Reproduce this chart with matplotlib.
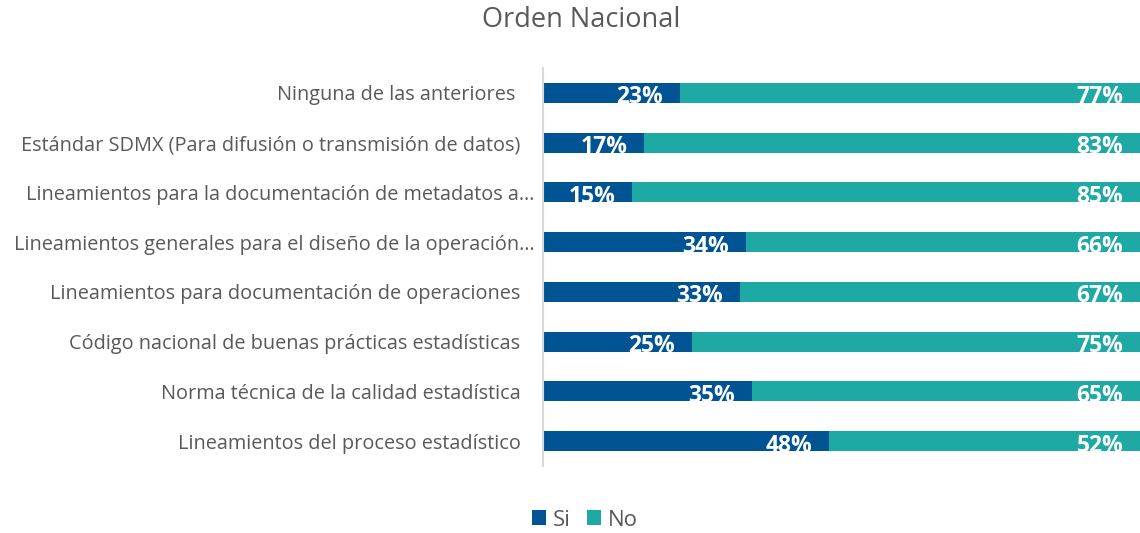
import matplotlib.pyplot as plt
import matplotlib.transforms as mtransforms
import numpy as np

# data, top to bottom as in the chart
categorias = [
    "Ninguna de las anteriores ",
    "Estándar SDMX (Para difusión o transmisión de datos)",
    "Lineamientos para la documentación de metadatos a…",
    "Lineamientos generales para el diseño de la operación…",
    "Lineamientos para documentación de operaciones",
    "Código nacional de buenas prácticas estadísticas",
    "Norma técnica de la calidad estadística",
    "Lineamientos del proceso estadístico",
]
si = [23, 17, 15, 34, 33, 25, 35, 48]
no = [77, 83, 85, 66, 67, 75, 65, 52]

c_si = "#005494"
c_no = "#1fa9a4"
gris = "#595959"

plt.rcParams['font.family'] = ['Open Sans', 'DejaVu Sans']

fig = plt.figure(figsize=(11.4, 5.33), dpi=100)
ax = fig.add_axes([0.476, 0.1257, 0.524, 0.7467])

y = np.arange(len(categorias))
si_f = np.array(si) / 100
no_f = np.array(no) / 100
b1 = ax.barh(y, si_f, height=0.4, color=c_si, label="Si")
b2 = ax.barh(y, no_f, left=si_f, height=0.4, color=c_no, label="No")

# white labels, baseline a little under the bar bottom (as in the original)
for i in range(len(y)):
    ax.annotate(f"{si[i]}%", (si_f[i], y[i]), xytext=(-12, -7.5), textcoords="offset points",
                ha="right", va="baseline", color="white", fontsize=16.5, fontweight="bold")
    ax.annotate(f"{no[i]}%", (si_f[i] + no_f[i], y[i]), xytext=(-12, -7.5), textcoords="offset points",
                ha="right", va="baseline", color="white", fontsize=16.5, fontweight="bold")

ax.set_xlim(0, 1)
ax.set_ylim(-0.5, len(y) - 0.5)
ax.invert_yaxis()
ax.set_yticks(y)
ax.set_yticklabels(categorias, fontsize=14.3, color=gris)
ax.tick_params(axis="y", length=0, pad=16)
# truncated labels sit closer to the axis
for lbl in ax.get_yticklabels():
    if lbl.get_text().endswith("…"):
        lbl.set_transform(lbl.get_transform() + mtransforms.ScaledTranslation(0.14, 0, fig.dpi_scale_trans))
ax.set_xticks([])
for s in ["top", "right", "bottom"]:
    ax.spines[s].set_visible(False)
ax.spines["left"].set_color("#d9d9d9")
ax.spines["left"].set_linewidth(1.5)

fig.text(0.51, 0.962, "Orden Nacional", ha="center", va="center", fontsize=19.5, color=gris)

fig.legend(handles=[b1, b2], loc="center", bbox_to_anchor=(0.513, 0.024), ncol=2, frameon=False,
           fontsize=16, handlelength=0.65, handleheight=0.65, handletextpad=0.3, columnspacing=0.7,
           labelcolor=gris)

fig.savefig("out.png", dpi=100)
